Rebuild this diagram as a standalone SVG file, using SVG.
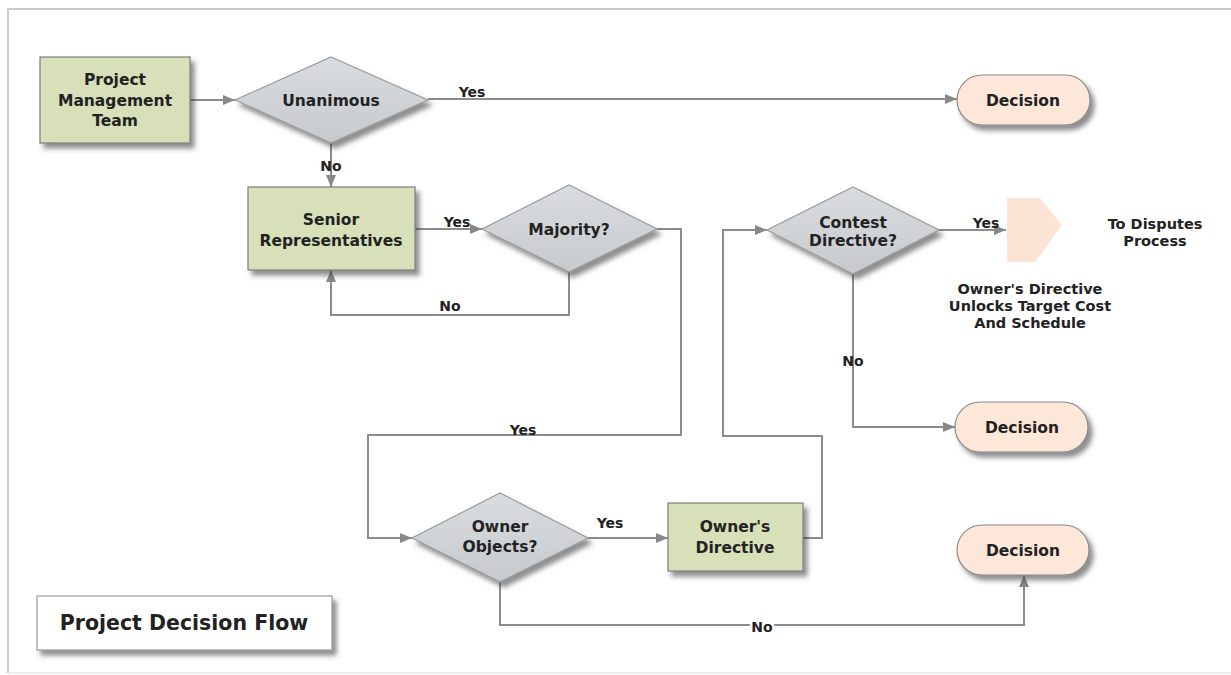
<svg xmlns="http://www.w3.org/2000/svg" width="1231" height="675" viewBox="0 0 1231 675">
  <defs>
    <filter id="shadow" x="-20%" y="-20%" width="150%" height="160%">
      <feDropShadow dx="4" dy="5" stdDeviation="2.5" flood-color="#333" flood-opacity="0.55"/>
    </filter>
    <linearGradient id="diamondFill" x1="0" y1="0" x2="0" y2="1">
      <stop offset="0" stop-color="#dadde0"/>
      <stop offset="1" stop-color="#c6cacd"/>
    </linearGradient>
    <marker id="arrow" viewBox="0 0 12 10" refX="12" refY="5" markerWidth="12" markerHeight="10" markerUnits="userSpaceOnUse" orient="auto">
      <path d="M0,0 L12,5 L0,10 z" fill="#888"/>
    </marker>
  </defs>
  <style>
    .txt { font-family: "DejaVu Sans", Verdana, sans-serif; font-weight: bold; fill: #222; text-anchor: middle; }
    .node { font-size: 15.5px; }
    .lbl { font-size: 14px; }
    .note { font-size: 14.5px; }
    .task { fill: #d7e0b9; stroke: #7d7d7d; stroke-width: 1.2; }
    .dec { fill: url(#diamondFill); stroke: #9a9a9a; stroke-width: 1.2; }
    .term { fill: #fce7d9; stroke: #8a8a8a; stroke-width: 1.2; }
    .conn { fill: none; stroke: #8c8c8c; stroke-width: 2; }
  </style>

  <rect width="1231" height="675" fill="#fff"/>
  <!-- page frame -->
  <path d="M8,673 V9 H1231" fill="none" stroke="#cbcbcb" stroke-width="2"/>
  <path d="M8,673 H1231" fill="none" stroke="#e6e6e6" stroke-width="1.5"/>

  <!-- connectors -->
  <g id="connectors">
    <path class="conn" d="M190,100 H235" marker-end="url(#arrow)"/>
    <path class="conn" d="M428,99 H957" marker-end="url(#arrow)"/>
    <path class="conn" d="M331,143 V187" marker-end="url(#arrow)"/>
    <path class="conn" d="M415,229 H482" marker-end="url(#arrow)"/>
    <path class="conn" d="M569,272 V315 H331 V270" marker-end="url(#arrow)"/>
    <path class="conn" d="M657,229 H681 V435 H368 V538 H412" marker-end="url(#arrow)"/>
    <path class="conn" d="M588,538 H668" marker-end="url(#arrow)"/>
    <path class="conn" d="M803,538 H822 V436 H723 V230 H767" marker-end="url(#arrow)"/>
    <path class="conn" d="M939,230 H1006" marker-end="url(#arrow)"/>
    <path class="conn" d="M853,274 V427 H955" marker-end="url(#arrow)"/>
    <path class="conn" d="M500,582 V625 H1024 V575" marker-end="url(#arrow)"/>

    <text class="txt lbl" x="472" y="97">Yes</text>
    <text class="txt lbl" x="331" y="171">No</text>
    <text class="txt lbl" x="457" y="227">Yes</text>
    <text class="txt lbl" x="450" y="311">No</text>
    <text class="txt lbl" x="523" y="435">Yes</text>
    <text class="txt lbl" x="610" y="528">Yes</text>
    <text class="txt lbl" x="986" y="228">Yes</text>
    <text class="txt lbl" x="853" y="366">No</text>
    <rect x="750" y="618" width="24" height="14" fill="#fff"/>
    <text class="txt lbl" x="762" y="632">No</text>
  </g>

  <g id="pmt" filter="url(#shadow)">
    <rect class="task" x="40" y="57" width="150" height="86"/>
  </g>
  <text class="txt node" x="115" y="85">Project</text>
  <text class="txt node" x="115" y="106">Management</text>
  <text class="txt node" x="115" y="126">Team</text>

  <g id="unanimous">
    <polygon class="dec" points="331,57 428,100 331,143 235,100" filter="url(#shadow)"/>
    <text class="txt node" x="331" y="106">Unanimous</text>
  </g>

  <g id="decision-top">
    <rect class="term" x="957" y="75" width="133" height="50" rx="25" filter="url(#shadow)"/>
    <text class="txt node" x="1023" y="106">Decision</text>
  </g>

  <g id="senior">
    <rect class="task" x="248" y="187" width="167" height="83" filter="url(#shadow)"/>
    <text class="txt node" x="331" y="225">Senior</text>
    <text class="txt node" x="331" y="246">Representatives</text>
  </g>

  <g id="majority">
    <polygon class="dec" points="569,185 657,229 569,272 482,229" filter="url(#shadow)"/>
    <text class="txt node" x="569" y="235">Majority?</text>
  </g>

  <g id="contest">
    <polygon class="dec" points="853,187 939,230 853,274 767,230" filter="url(#shadow)"/>
    <text class="txt node" x="853" y="228">Contest</text>
    <text class="txt node" x="853" y="246">Directive?</text>
  </g>

  <g id="disputes">
    <polygon points="1007,198 1040,198 1062,225 1035,262 1007,262" fill="#fbe4d4"/>
    <text class="txt note" x="1155" y="229">To Disputes</text>
    <text class="txt note" x="1155" y="246">Process</text>
  </g>

  <g id="unlock-note">
    <text class="txt note" x="1030" y="294">Owner's Directive</text>
    <text class="txt note" x="1030" y="311">Unlocks Target Cost</text>
    <text class="txt note" x="1030" y="328">And Schedule</text>
  </g>

  <g id="decision-mid">
    <rect class="term" x="955" y="402" width="133" height="50" rx="25" filter="url(#shadow)"/>
    <text class="txt node" x="1022" y="433">Decision</text>
  </g>

  <g id="owner-objects">
    <polygon class="dec" points="500,493 588,538 500,582 412,538" filter="url(#shadow)"/>
    <text class="txt node" x="500" y="532">Owner</text>
    <text class="txt node" x="500" y="552">Objects?</text>
  </g>

  <g id="owner-directive">
    <rect class="task" x="668" y="503" width="135" height="68" filter="url(#shadow)"/>
    <text class="txt node" x="735" y="532">Owner's</text>
    <text class="txt node" x="735" y="553">Directive</text>
  </g>

  <g id="decision-bottom">
    <rect class="term" x="957" y="525" width="132" height="50" rx="25" filter="url(#shadow)"/>
    <text class="txt node" x="1023" y="556">Decision</text>
  </g>

  <g id="title">
    <rect x="37" y="596" width="295" height="54" fill="#fff" stroke="#9a9a9a" stroke-width="1.2" filter="url(#shadow)"/>
    <text class="txt" x="184" y="630" font-size="20.5px">Project Decision Flow</text>
  </g>
</svg>
